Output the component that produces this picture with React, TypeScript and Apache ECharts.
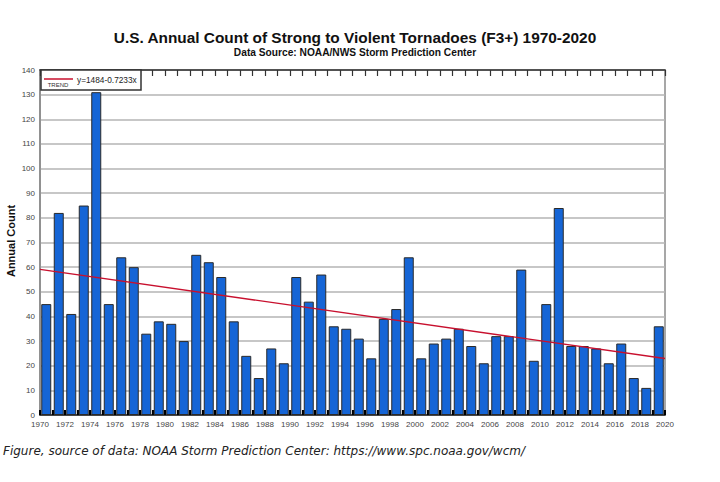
import React, { useEffect, useRef } from "react";
import * as echarts from "echarts";

const years = [
  1970, 1971, 1972, 1973, 1974, 1975, 1976, 1977, 1978, 1979,
  1980, 1981, 1982, 1983, 1984, 1985, 1986, 1987, 1988, 1989,
  1990, 1991, 1992, 1993, 1994, 1995, 1996, 1997, 1998, 1999,
  2000, 2001, 2002, 2003, 2004, 2005, 2006, 2007, 2008, 2009,
  2010, 2011, 2012, 2013, 2014, 2015, 2016, 2017, 2018, 2019,
];
const counts = [
  45, 82, 41, 85, 131, 45, 64, 60, 33, 38,
  37, 30, 65, 62, 56, 38, 24, 15, 27, 21,
  56, 46, 57, 36, 35, 31, 23, 39, 43, 64,
  23, 29, 31, 35, 28, 21, 32, 32, 59, 22,
  45, 84, 28, 28, 27, 21, 29, 15, 11, 36,
];
const trendYears = [1970, 2020];
const trendValues = [59.1, 22.9];
const trendLabel = "y=1484-0.7233x";

const titleText = "U.S. Annual Count of Strong to Violent Tornadoes (F3+) 1970-2020";
const subtitleText = "Data Source: NOAA/NWS Storm Prediction Center";
const yAxisTitle = "Annual Count";
const captionText =
  "Figure, source of data: NOAA Storm Prediction Center: https://www.spc.noaa.gov/wcm/";

export default function App() {
  const ref = useRef<HTMLDivElement>(null);
  useEffect(() => {
    if (!ref.current) return;
    const chart = echarts.init(ref.current, null, { renderer: "svg" });
    const font = "'Liberation Sans', Arial, sans-serif";
    const barData = years.map((y, i) => [y + 0.5, counts[i]]);
    const trendData = trendYears.map((y, i) => [y, trendValues[i]]);
    chart.setOption({
      animation: false,
      backgroundColor: "#ffffff",
      grid: {
        left: 40,
        right: 55,
        top: 70,
        bottom: 67,
        show: true,
        borderColor: "#8a8a8a",
        borderWidth: 1.5,
        backgroundColor: "transparent",
      },
      xAxis: [
        {
          type: "value",
          min: 1970,
          max: 2020,
          interval: 2,
          position: "bottom",
          axisLine: { show: true, lineStyle: { color: "#222", width: 1.5 } },
          axisTick: { show: true, inside: true, length: 5, lineStyle: { color: "#000", width: 2 } },
          minorTick: { show: true, splitNumber: 2, length: 5, lineStyle: { color: "#000", width: 2 } },
          splitLine: { show: false },
          axisLabel: {
            show: true,
            fontFamily: font,
            fontSize: 8,
            color: "#444",
            margin: 5,
            formatter: (v: number) => String(v),
          },
        },
        {
          type: "value",
          min: 1970,
          max: 2020,
          interval: 2,
          position: "top",
          axisLine: { show: true, lineStyle: { color: "#333", width: 1.5 } },
          axisTick: { show: true, inside: true, length: 6, lineStyle: { color: "#333", width: 1.2 } },
          minorTick: { show: true, splitNumber: 2, length: 6, lineStyle: { color: "#333", width: 1.2 } },
          splitLine: { show: false },
          axisLabel: { show: false },
        },
      ],
      yAxis: {
        type: "value",
        min: 0,
        max: 140,
        interval: 10,
        axisLine: { show: true, lineStyle: { color: "#8a8a8a", width: 1.5 } },
        axisTick: { show: false },
        splitLine: { show: true, lineStyle: { color: "#b4b4b4", width: 1.5 } },
        axisLabel: { fontFamily: font, fontSize: 8, color: "#444", margin: 5 },
      },
      series: [
        {
          type: "bar",
          xAxisIndex: 0,
          data: barData,
          barWidth: 10,
          z: 2,
          itemStyle: { color: "#1565d6", borderColor: "#2a2a2a", borderWidth: 1 },
        },
        {
          type: "line",
          xAxisIndex: 0,
          data: trendData,
          symbol: "none",
          z: 5,
          lineStyle: { color: "#c8102e", width: 1.4 },
        },
      ],
      graphic: [
        {
          type: "text",
          x: 355,
          y: 37,
          style: {
            text: titleText,
            fontFamily: font,
            fontWeight: "bold",
            fontSize: 15.4,
            fill: "#111",
            textAlign: "center",
            textVerticalAlign: "middle",
          },
        },
        {
          type: "text",
          x: 355,
          y: 52,
          style: {
            text: subtitleText,
            fontFamily: font,
            fontWeight: "bold",
            fontSize: 10.2,
            fill: "#111",
            textAlign: "center",
            textVerticalAlign: "middle",
          },
        },
        {
          type: "text",
          x: 11,
          y: 241,
          rotation: Math.PI / 2,
          style: {
            text: yAxisTitle,
            fontFamily: font,
            fontWeight: "bold",
            fontSize: 11,
            fill: "#111",
            textAlign: "center",
            textVerticalAlign: "middle",
          },
        },
        {
          type: "rect",
          z: 10,
          shape: { x: 41, y: 70, width: 100, height: 20 },
          style: { fill: "#ffffff", stroke: "#333", lineWidth: 1.5 },
        },
        {
          type: "line",
          z: 11,
          shape: { x1: 44, y1: 79, x2: 73, y2: 79 },
          style: { stroke: "#c8102e", lineWidth: 1.5 },
        },
        {
          type: "text",
          z: 11,
          x: 58,
          y: 85,
          style: {
            text: "TREND",
            fontFamily: font,
            fontSize: 6,
            fill: "#333",
            textAlign: "center",
            textVerticalAlign: "middle",
          },
        },
        {
          type: "text",
          z: 11,
          x: 77,
          y: 80,
          style: {
            text: trendLabel,
            fontFamily: font,
            fontSize: 8.3,
            fill: "#222",
            textAlign: "left",
            textVerticalAlign: "middle",
          },
        },
        {
          type: "text",
          x: 3,
          y: 451,
          style: {
            text: captionText,
            fontFamily: "'DejaVu Sans', Verdana, sans-serif",
            fontStyle: "italic",
            fontSize: 12,
            fill: "#222",
            textAlign: "left",
            textVerticalAlign: "middle",
          },
        },
      ],
    });
    return () => chart.dispose();
  }, []);
  return (
    <div
      ref={ref}
      style={{ position: "fixed", left: 0, top: 0, width: 720, height: 482, background: "#fff" }}
    />
  );
}
